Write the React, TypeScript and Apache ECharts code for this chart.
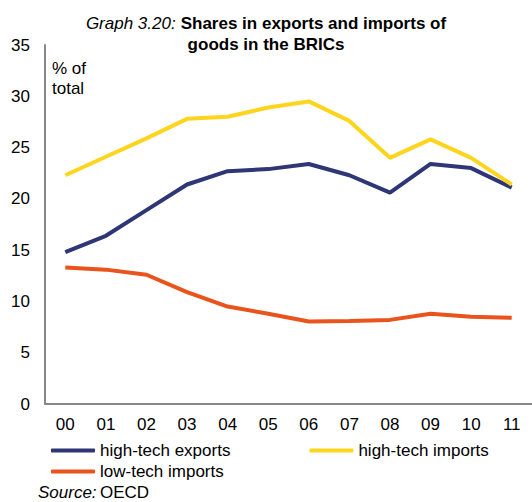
import React, { useEffect, useRef } from "react";
import * as echarts from "echarts";

const years = ["00", "01", "02", "03", "04", "05", "06", "07", "08", "09", "10", "11"];
const highTechExports = [14.8, 16.4, 18.9, 21.4, 22.7, 22.9, 23.4, 22.3, 20.6, 23.4, 23.0, 21.1];
const highTechImports = [22.3, 24.1, 25.9, 27.8, 28.0, 28.9, 29.5, 27.6, 24.0, 25.8, 24.0, 21.4];
const lowTechImports = [13.3, 13.1, 12.6, 10.9, 9.5, 8.8, 8.05, 8.1, 8.2, 8.8, 8.5, 8.4];

const FONT = "Liberation Sans, Arial, sans-serif";
const BLUE = "#2E3675";
const YELLOW = "#FDD51F";
const ORANGE = "#E8541C";

export default function App() {
  const ref = useRef<HTMLDivElement>(null);
  useEffect(() => {
    if (!ref.current) return;
    const chart = echarts.init(ref.current, undefined, { renderer: "svg" });
    const legendText = { fontFamily: FONT, fontSize: 17, color: "#000" };
    chart.setOption({
      animation: false,
      backgroundColor: "#fff",
      textStyle: { fontFamily: FONT },
      title: {
        left: "center",
        top: 8,
        text: "{i|Graph 3.20:} {b|Shares in exports and imports of}\n{b|goods in the BRICs}",
        textStyle: {
          fontWeight: "normal",
          rich: {
            i: { fontStyle: "italic", fontWeight: "normal", fontSize: 17, lineHeight: 21, fontFamily: FONT, color: "#000" },
            b: { fontWeight: "bold", fontSize: 17, lineHeight: 21, fontFamily: FONT, color: "#000" },
          },
        },
      },
      grid: { left: 45, right: -5, top: 45, bottom: 98 },
      legend: [
        {
          left: 46,
          top: 437,
          itemGap: 79,
          itemWidth: 44,
          itemHeight: 4,
          icon: "roundRect",
          textStyle: legendText,
          data: ["high-tech exports", "high-tech imports"],
        },
        {
          left: 46,
          top: 458,
          itemWidth: 44,
          itemHeight: 4,
          icon: "roundRect",
          textStyle: legendText,
          data: ["low-tech imports"],
        },
      ],
      xAxis: {
        type: "category",
        data: years,
        boundaryGap: true,
        axisLine: { lineStyle: { color: "#888", width: 2 } },
        axisTick: { show: false },
        axisLabel: { fontFamily: FONT, fontSize: 17, color: "#000", margin: 12 },
      },
      yAxis: {
        type: "value",
        min: 0,
        max: 35,
        interval: 5,
        axisLine: { show: true, lineStyle: { color: "#888", width: 2 } },
        axisTick: { show: false },
        splitLine: { show: false },
        axisLabel: { fontFamily: FONT, fontSize: 17, color: "#000", margin: 15 },
      },
      graphic: [
        {
          type: "text",
          left: 52,
          top: 58,
          style: { text: "% of\ntotal", font: `17px ${FONT}`, fill: "#000", lineHeight: 20 },
        },
        {
          type: "text",
          left: 38,
          top: 484,
          style: {
            text: "{i|Source:} {n|OECD}",
            rich: {
              i: { fontStyle: "italic", fontSize: 17, fontFamily: FONT, fill: "#000" },
              n: { fontSize: 17, fontFamily: FONT, fill: "#000" },
            },
          },
        },
      ],
      series: [
        {
          name: "high-tech exports",
          type: "line",
          data: highTechExports,
          symbol: "none",
          color: BLUE,
          lineStyle: { width: 4, color: BLUE },
        },
        {
          name: "high-tech imports",
          type: "line",
          data: highTechImports,
          symbol: "none",
          color: YELLOW,
          lineStyle: { width: 4, color: YELLOW },
        },
        {
          name: "low-tech imports",
          type: "line",
          data: lowTechImports,
          symbol: "none",
          color: ORANGE,
          lineStyle: { width: 4, color: ORANGE },
        },
      ],
    });
    return () => chart.dispose();
  }, []);
  return <div ref={ref} style={{ width: 532, height: 502, position: "absolute", left: 0, top: 0 }} />;
}
